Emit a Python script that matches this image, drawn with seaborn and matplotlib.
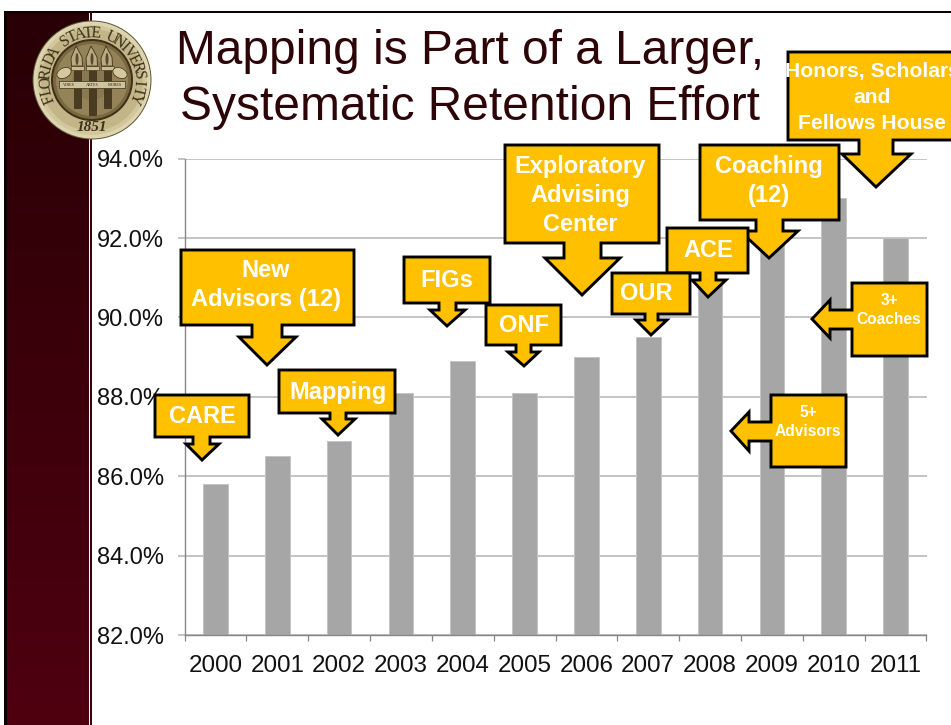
import numpy as np
import pandas as pd
import matplotlib
matplotlib.use('Agg')
import matplotlib.pyplot as plt
from matplotlib.patches import Polygon, Circle, Rectangle, Ellipse
from matplotlib.ticker import FuncFormatter
import seaborn as sns

years = ['2000', '2001', '2002', '2003', '2004', '2005',
         '2006', '2007', '2008', '2009', '2010', '2011']
retention = [85.8, 86.5, 86.9, 88.1, 88.9, 88.1, 89.0, 89.5, 90.9, 92.0, 93.0, 92.0]
y_ticks = [82, 84, 86, 88, 90, 92, 94]
title_lines = ['Mapping is Part of a Larger,', 'Systematic Retention Effort']

sns.set_style('white')
plt.rcParams['font.family'] = ['Liberation Sans', 'DejaVu Sans']

W, H = 951, 725
ORANGE = '#ffc000'
fig = plt.figure(figsize=(W / 100, H / 100), dpi=100, facecolor='white')

# slide background, pixel coordinates
bg = fig.add_axes([0, 0, 1, 1], zorder=0)
bg.set_xlim(0, W)
bg.set_ylim(H, 0)
bg.axis('off')
c0 = np.array([0x28, 0x00, 0x05]) / 255
c1 = np.array([0x4f, 0x00, 0x10]) / 255
t = np.linspace(0, 1, 256)[:, None, None]
grad = c0[None, None, :] * (1 - t) + c1[None, None, :] * t
bg.imshow(grad, extent=[6, 88.5, H, 12], aspect='auto', zorder=1)
bg.set_xlim(0, W)
bg.set_ylim(H, 0)
bg.add_patch(Rectangle((4, 11), 2.6, H - 11, fc='#0a0002', ec='none', zorder=2))
bg.add_patch(Rectangle((4, 11), W - 4, 2.2, fc='#0a0002', ec='none', zorder=2))
bg.add_patch(Rectangle((90, 12), 1.7, H - 12, fc='#3a0008', ec='none', zorder=2))

# chart
ax = fig.add_axes([184.5 / W, 1 - 635 / H, 742 / W, (635 - 158.7) / H], zorder=1)
ax.patch.set_alpha(0)
df = pd.DataFrame({'year': years, 'retention': retention})
sns.barplot(data=df, x='year', y='retention', color='#a6a6a6', saturation=1, width=0.4,
            edgecolor='#c4c4c4', linewidth=0.7, ax=ax)
ax.set_xlim(-0.5, 11.5)
ax.set_ylim(82, 94)
ax.set_xlabel('')
ax.set_ylabel('')
ax.set_yticks(y_ticks)
ax.yaxis.set_major_formatter(FuncFormatter(lambda v, p: f'{v:.1f}%'))
ax.set_axisbelow(True)
ax.grid(axis='y', color='#b4b4b4', lw=1.1)
ax.set_xticks(np.arange(-0.5, 12), minor=True)
ax.tick_params(axis='x', which='major', length=0, labelsize=17.4, pad=14.5, labelcolor='#111111')
ax.tick_params(axis='x', which='minor', length=4.5, width=0.9, color='#868686', bottom=True)
ax.tick_params(axis='y', length=5, width=1.1, color='#b4b4b4', left=True, labelsize=17,
               pad=10, labelcolor='#111111')
sns.despine(ax=ax)
for s in ['left', 'bottom']:
    ax.spines[s].set_color('#868686')
    ax.spines[s].set_linewidth(1.0)

# everything drawn over the chart
top = fig.add_axes([0, 0, 1, 1], zorder=2)
top.set_xlim(0, W)
top.set_ylim(H, 0)
top.axis('off')
top.patch.set_alpha(0)

for i, line in enumerate(title_lines):
    top.text(470.5, 51 + i * 56, line, ha='center', va='center', fontsize=34.5, color='#2d0508')


def draw_seal(cx, cy):
    rings = [(59.5, '#5f5638'), (58.5, '#ddd5b0'), (55, '#d2c79c'), (51, '#c2b588'), (41, '#3f3118'),
             (39, '#7a6840'), (36, '#948258'), (20, '#8a7850')]
    for r, col in rings:
        top.add_patch(Circle((cx, cy), r, fc=col, ec='none', zorder=5))
    # torches
    for dx, h in [(-15, 30), (0, 37), (15, 30)]:
        top.add_patch(Rectangle((cx + dx - 3.5, cy - 10), 7, h + 8, fc='#4a3c20', ec='#2c2210', lw=0.4, zorder=6))
        top.add_patch(Rectangle((cx + dx - 6.5, cy - 14), 13, 4, fc='#c9bc92', ec='#3a2e16', lw=0.4, zorder=6))
        flame = [(cx + dx - 5.5, cy - 14), (cx + dx - 6, cy - 22), (cx + dx - 1, cy - 34),
                 (cx + dx + 5, cy - 23), (cx + dx + 5.5, cy - 14)]
        top.add_patch(Polygon(flame, closed=True, fc='#b8ab82', ec='#3f3218', lw=0.6, zorder=6))
        top.add_patch(Ellipse((cx + dx, cy - 21), 3, 12, fc='#5a4a2a', ec='none', zorder=6))
    # banner
    top.add_patch(Rectangle((cx - 33, cy + 1), 66, 7, fc='#cfc59c', ec='#3a2e16', lw=0.5, zorder=7))
    for dx, lab in [(-23, 'VIRES'), (0, 'ARTES'), (23, 'MORES')]:
        top.text(cx + dx, cy + 4.6, lab, ha='center', va='center', fontsize=3,
                 family='Liberation Serif', color='#2c2210', zorder=8)
    for dx in [-28, 28]:
        top.add_patch(Ellipse((cx + dx, cy - 7), 15, 10, angle=-25 if dx < 0 else 25,
                              fc='#d4c89e', ec='#3a2e16', lw=0.5, zorder=6))
    # arc lettering
    name = 'FLORIDA STATE UNIVERSITY'
    angles = np.linspace(203, -23, len(name))
    for ch, a in zip(name, angles):
        rad = np.deg2rad(a)
        top.text(cx + 46.5 * np.cos(rad), cy - 46.5 * np.sin(rad), ch, rotation=a - 90,
                 rotation_mode='anchor', ha='center', va='center', fontsize=11.5,
                 family='Liberation Serif', color='#3b3018', zorder=8)
    top.text(cx, cy + 47, '1851', ha='center', va='center', fontsize=11, weight='bold',
             family='Liberation Serif', style='italic', color='#3b3018', zorder=8)


draw_seal(92, 80)


def down_callout(box, stem, head, tip, label, tx, ty, size=17, lh=29):
    x0, y0, x1, y1 = box
    pts = [(x0, y0), (x1, y0), (x1, y1), (stem[1], y1), (stem[1], head[0]), (head[2], head[0]),
           tip, (head[1], head[0]), (stem[0], head[0]), (stem[0], y1), (x0, y1)]
    finish(pts, label, tx, ty, size, lh)


def left_callout(box, stem, head, tip, label, tx, ty, size=11.2, lh=19):
    x0, y0, x1, y1 = box
    pts = [(x0, y0), (x1, y0), (x1, y1), (x0, y1), (x0, stem[1]), (head[0], stem[1]), (head[0], head[2]),
           tip, (head[0], head[1]), (head[0], stem[0]), (x0, stem[0])]
    finish(pts, label, tx, ty, size, lh)


order = [0]


def finish(pts, label, tx, ty, size, lh):
    order[0] += 1
    z = 10 + order[0]
    top.add_patch(Polygon(pts, closed=True, fc=ORANGE, ec='black', lw=2.1, joinstyle='miter', zorder=z))
    for i, line in enumerate(label.split('\n')):
        top.text(tx, ty + 1 + i * lh, line, ha='center', va='center', fontsize=size, weight='bold',
                 color='white', zorder=z)


down_callout((181, 250, 354, 325), (252, 282), (337, 239, 296), (267, 365), 'New\nAdvisors (12)', 266, 269)
down_callout((155, 395, 249, 437), (193, 210), (444, 186, 219), (202, 460), 'CARE', 202, 415)
down_callout((279, 370, 395, 413), (330, 346), (419, 322, 355), (338, 435), 'Mapping', 338, 391)
down_callout((404, 257, 490, 303), (439, 456), (310, 430, 465), (447, 326), 'FIGs', 447, 279)
down_callout((486, 305, 561, 345), (516, 531), (352, 508, 539), (524, 366), 'ONF', 524, 324)
down_callout((505, 145, 659, 243), (564, 601), (258, 545, 620), (582, 295), 'Exploratory\nAdvising\nCenter', 580, 165)
down_callout((788, 52, 960, 140), (859, 893), (154, 842, 911), (876, 187), 'Honors, Scholars\nand\nFellows House',
             872.5, 70, size=15.2, lh=26)
down_callout((700, 145, 839, 220), (756, 783), (231, 740, 798), (769, 258), 'Coaching\n(12)', 769, 165)
down_callout((667, 228, 748, 273), (700, 716), (280, 692, 726), (708, 297), 'ACE', 708, 249)
down_callout((612, 273, 690, 314), (645, 658), (320, 636, 667), (651, 335), 'OUR', 646, 292)
left_callout((771, 395, 846, 467), (422, 441), (749, 412, 451), (731, 431), '5+\nAdvisors', 808, 411)
left_callout((852, 283, 927, 356), (310, 329), (830, 300, 338), (812, 319), '3+\nCoaches', 889, 299)

plt.savefig('out.png', dpi=100)
